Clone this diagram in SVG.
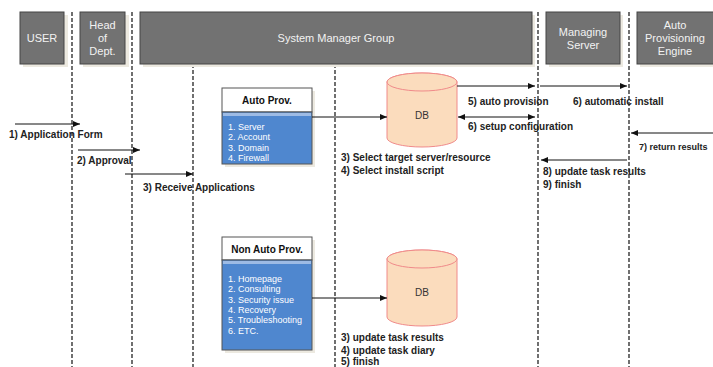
<svg xmlns="http://www.w3.org/2000/svg" width="713" height="367" viewBox="0 0 713 367">
<defs>
<marker id="arr" markerWidth="8" markerHeight="8" refX="7" refY="4" orient="auto" markerUnits="userSpaceOnUse">
<path d="M0,1 L7,4 L0,7 Z" fill="#111"/>
</marker>
<marker id="arrS" markerWidth="8" markerHeight="8" refX="1" refY="4" orient="auto" markerUnits="userSpaceOnUse">
<path d="M8,1 L1,4 L8,7 Z" fill="#111"/>
</marker>
</defs>
<style>
.hdr{fill:#727272;stroke:#444;stroke-width:1}
.shd{fill:#ece9e0}
.htx{font-family:"Liberation Sans",sans-serif;font-size:11px;fill:#f2f2f2;text-anchor:middle}
.life{stroke:#111;stroke-width:1.2;stroke-dasharray:4,2;fill:none}
.ln{stroke:#111;stroke-width:1;fill:none}
.lbl{font-family:"Liberation Sans",sans-serif;font-size:10px;font-weight:bold;fill:#222}
.btop{fill:#fff;stroke:#555;stroke-width:1}
.bbody{fill:#4f87cf;stroke:#555;stroke-width:1}
.strip{fill:#9dbbe5}
.btl{font-family:"Liberation Sans",sans-serif;font-size:10px;font-weight:bold;fill:#111;text-anchor:middle}
.itm{font-family:"Liberation Sans",sans-serif;font-size:9px;fill:#fff}
.db{fill:#fbdcbd;stroke:#f08a8a;stroke-width:1}
.dbt{font-family:"Liberation Sans",sans-serif;font-size:10px;fill:#333;text-anchor:middle}
</style>
<g id="lifelines">
<line class="life" x1="72" y1="12" x2="72" y2="367"/>
<line class="life" x1="132" y1="12" x2="132" y2="367"/>
<line class="life" x1="193" y1="64" x2="193" y2="367"/>
<line class="life" x1="335" y1="64" x2="335" y2="367"/>
<line class="life" x1="538" y1="12" x2="538" y2="367"/>
<line class="life" x1="629" y1="12" x2="629" y2="367"/>
</g>
<g id="user">
<rect class="shd" x="23" y="15" width="45" height="52"/>
<rect class="hdr" x="20" y="12" width="44" height="52"/>
<text class="htx" x="42" y="42">USER</text>
</g>
<g id="head">
<rect class="shd" x="83" y="15" width="46" height="52"/>
<rect class="hdr" x="80" y="12" width="45" height="52"/>
<text class="htx" x="102.5" y="29">Head</text>
<text class="htx" x="102.5" y="42">of</text>
<text class="htx" x="102.5" y="55">Dept.</text>
</g>
<g id="smg">
<rect class="shd" x="143" y="15" width="392" height="52"/>
<rect class="hdr" x="140" y="12" width="392" height="52"/>
<text class="htx" x="336" y="42">System Manager Group</text>
</g>
<g id="ms">
<rect class="shd" x="549" y="15" width="74" height="52"/>
<rect class="hdr" x="546" y="12" width="74" height="52"/>
<text class="htx" x="583" y="36">Managing</text>
<text class="htx" x="583" y="49">Server</text>
</g>
<g id="ape">
<rect class="shd" x="640" y="15" width="76" height="52"/>
<rect class="hdr" x="637" y="12" width="80" height="52"/>
<text class="htx" x="675" y="29">Auto</text>
<text class="htx" x="675" y="42">Provisioning</text>
<text class="htx" x="675" y="55">Engine</text>
</g>
<g id="autoprov">
<rect class="shd" x="225" y="91" width="90" height="76"/>
<rect class="btop" x="222" y="88" width="90" height="24"/>
<rect class="bbody" x="222" y="112" width="90" height="52"/>
<rect class="strip" x="223" y="113" width="88" height="3"/>
<text class="btl" x="267" y="104">Auto Prov.</text>
<text class="itm" x="228" y="130">1. Server</text>
<text class="itm" x="228" y="140.3">2. Account</text>
<text class="itm" x="228" y="150.6">3. Domain</text>
<text class="itm" x="228" y="160.9">4. Firewall</text>
</g>
<g id="nonautoprov">
<rect class="shd" x="225" y="240" width="90" height="113"/>
<rect class="btop" x="222" y="237" width="90" height="23"/>
<rect class="bbody" x="222" y="260" width="90" height="90"/>
<rect class="strip" x="223" y="261" width="88" height="3"/>
<text class="btl" x="267" y="253">Non Auto Prov.</text>
<text class="itm" x="228" y="282">1. Homepage</text>
<text class="itm" x="228" y="292.3">2. Consulting</text>
<text class="itm" x="228" y="302.6">3. Security issue</text>
<text class="itm" x="228" y="312.9">4. Recovery</text>
<text class="itm" x="228" y="323.2">5. Troubleshooting</text>
<text class="itm" x="228" y="333.5">6. ETC.</text>
</g>
<g id="db1">
<path class="db" d="M387,82 L387,138 A35,9 0 0 0 457,138 L457,82 A35,9 0 0 0 387,82 Z"/>
<ellipse class="db" cx="422" cy="82" rx="35" ry="9"/>
<text class="dbt" x="422" y="119">DB</text>
</g>
<g id="db2">
<path class="db" d="M387,259 L387,317 A35,9 0 0 0 457,317 L457,259 A35,9 0 0 0 387,259 Z"/>
<ellipse class="db" cx="422" cy="259" rx="35" ry="9"/>
<text class="dbt" x="422" y="296">DB</text>
</g>
<g id="connectors">
<line class="ln" x1="15" y1="124" x2="80" y2="124" marker-end="url(#arr)"/>
<line class="ln" x1="78" y1="150" x2="140" y2="150" marker-end="url(#arr)"/>
<line class="ln" x1="125" y1="174" x2="193" y2="174" marker-end="url(#arr)"/>
<line class="ln" x1="312" y1="117" x2="387" y2="117" marker-end="url(#arr)"/>
<line class="ln" x1="457" y1="86" x2="535" y2="86" marker-end="url(#arr)"/>
<line class="ln" x1="540" y1="86" x2="627" y2="86" marker-end="url(#arr)"/>
<line class="ln" x1="458" y1="117" x2="535" y2="117" marker-start="url(#arrS)" marker-end="url(#arr)"/>
<line class="ln" x1="713" y1="133" x2="631" y2="133" marker-end="url(#arr)"/>
<line class="ln" x1="627" y1="160" x2="541" y2="160" marker-end="url(#arr)"/>
<line class="ln" x1="312" y1="298" x2="387" y2="298" marker-end="url(#arr)"/>
</g>
<g id="labels">
<text class="lbl" x="9" y="138">1) Application Form</text>
<text class="lbl" x="77" y="164">2) Approval</text>
<text class="lbl" x="143" y="191">3) Receive Applications</text>
<text class="lbl" x="468" y="105">5) auto provision</text>
<text class="lbl" x="573" y="105">6) automatic install</text>
<text class="lbl" x="468" y="130">6) setup configuration</text>
<text class="lbl" x="639" y="150" style="font-size:9px">7) return results</text>
<text class="lbl" x="543" y="175">8) update task results</text>
<text class="lbl" x="543" y="188">9) finish</text>
<text class="lbl" x="341" y="161">3) Select target server/resource</text>
<text class="lbl" x="341" y="174">4) Select install script</text>
<text class="lbl" x="341" y="341">3) update task results</text>
<text class="lbl" x="341" y="354">4) update task diary</text>
<text class="lbl" x="341" y="365">5) finish</text>
</g>
</svg>
